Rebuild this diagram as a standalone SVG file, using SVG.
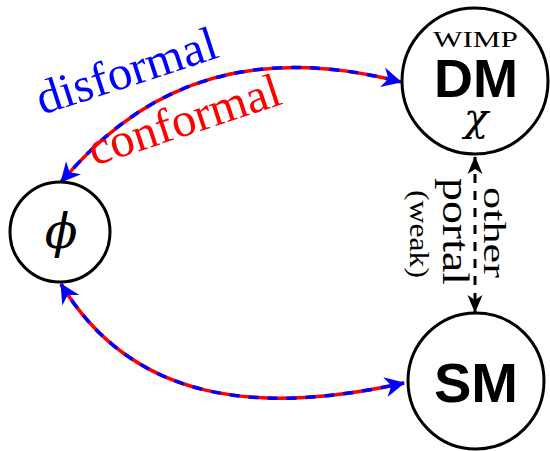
<svg xmlns="http://www.w3.org/2000/svg" width="550" height="451" viewBox="0 0 550 451">
<style>
.node{fill:#fff;stroke:#000;stroke-width:3}
.serif{font-family:"Liberation Serif","DejaVu Serif",serif}
.greek{font-family:"DejaVu Serif","Liberation Serif",serif;font-style:italic}
.sans{font-family:"Liberation Sans","DejaVu Sans",sans-serif;font-weight:bold}
.red{fill:none;stroke:#f00;stroke-width:3.5}
.blue{fill:none;stroke:#00f;stroke-width:3.5;stroke-dasharray:10 9}
.portal{fill:none;stroke:#000;stroke-width:3;stroke-dasharray:9 8}
</style>
<defs>
<marker id="ab" markerUnits="userSpaceOnUse" markerWidth="24" markerHeight="24" viewBox="-1 -12 24 24" refX="19" refY="0" orient="auto-start-reverse">
<path d="M0,-10 L20,0 L0,10 L6,0 Z" fill="#00f"/>
</marker>
<marker id="ak" markerUnits="userSpaceOnUse" markerWidth="24" markerHeight="24" viewBox="-1 -12 24 24" refX="17" refY="0" orient="auto-start-reverse">
<path d="M0,-7.5 L18,0 L0,7.5 L5,0 Z" fill="#000"/>
</marker>
</defs>
<g id="connectors">
<path class="red" d="M61,182 C106,131 200,30 401,82"/>
<path class="blue" d="M61,182 C106,131 200,30 401,82" marker-start="url(#ab)" marker-end="url(#ab)"/>
<path class="red" d="M61,284 C133,403 260,415 404,383"/>
<path class="blue" d="M61,284 C133,403 260,415 404,383" marker-start="url(#ab)" marker-end="url(#ab)"/>
<path class="portal" d="M475,157 L475,312" marker-start="url(#ak)" marker-end="url(#ak)"/>
<text class="serif" font-size="48" fill="#00f" transform="translate(42,115) rotate(-18)" textLength="188" lengthAdjust="spacingAndGlyphs">disformal</text>
<text class="serif" font-size="48" fill="#f00" transform="translate(94,166) rotate(-18.2)" textLength="200" lengthAdjust="spacingAndGlyphs">conformal</text>
<text class="serif" font-size="32" fill="#000" transform="translate(484,187) rotate(90)" textLength="91" lengthAdjust="spacingAndGlyphs">other</text>
<text class="serif" font-size="37" fill="#000" transform="translate(443,178) rotate(90)" textLength="107" lengthAdjust="spacingAndGlyphs">portal</text>
<text class="serif" font-size="27" fill="#000" transform="translate(410,190) rotate(90)" textLength="88" lengthAdjust="spacingAndGlyphs">(weak)</text>
</g>
<g id="phi">
<circle class="node" cx="60" cy="232" r="50"/>
<text class="greek" font-size="48" text-anchor="middle" x="61" y="248">ϕ</text>
</g>
<g id="dm">
<circle class="node" cx="475" cy="81" r="73"/>
<text class="serif" font-size="24" x="433" y="47" textLength="85" lengthAdjust="spacingAndGlyphs">WIMP</text>
<text class="sans" font-size="54" text-anchor="middle" x="476" y="97">DM</text>
<text class="greek" font-size="40" text-anchor="middle" x="476" y="131">χ</text>
</g>
<g id="sm">
<circle class="node" cx="476" cy="381" r="68"/>
<text class="sans" font-size="56" text-anchor="middle" x="476" y="402">SM</text>
</g>
</svg>
